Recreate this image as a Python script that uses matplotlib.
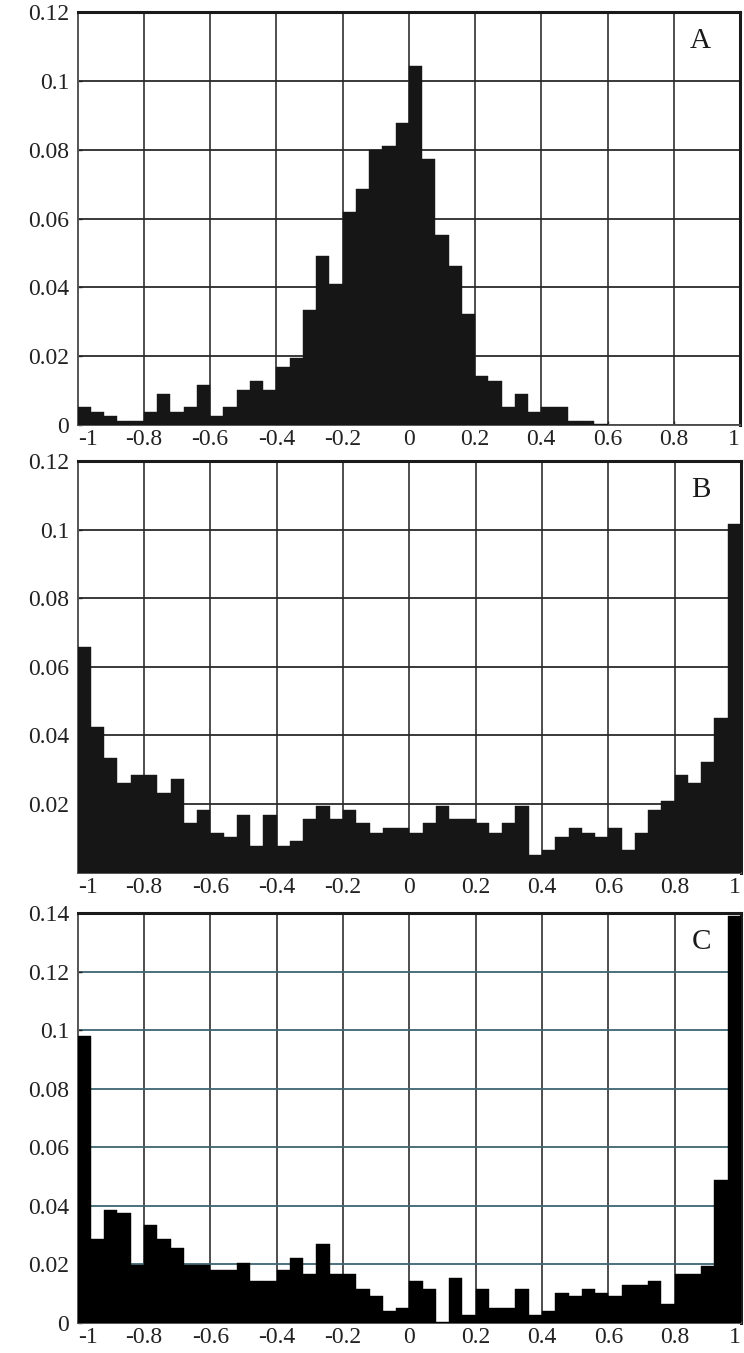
import numpy as np
import matplotlib
matplotlib.use("Agg")
import matplotlib.pyplot as plt

# bin edges: 50 bins of width 0.04 from -1 to 1
bin_edges = np.linspace(-1, 1, 51)

freq_a = [0.0052, 0.0039, 0.0025, 0.0013, 0.0013, 0.0039, 0.0090, 0.0039, 0.0051, 0.0117,
          0.0025, 0.0051, 0.0103, 0.0129, 0.0103, 0.0168, 0.0195, 0.0335, 0.0491, 0.0411,
          0.0620, 0.0685, 0.0800, 0.0812, 0.0877, 0.1043, 0.0774, 0.0552, 0.0463, 0.0324,
          0.0142, 0.0129, 0.0051, 0.0090, 0.0039, 0.0051, 0.0051, 0.0013, 0.0013, 0.0003,
          0, 0, 0, 0, 0, 0, 0, 0, 0, 0]

freq_b = [0.0658, 0.0425, 0.0335, 0.0260, 0.0284, 0.0284, 0.0233, 0.0272, 0.0144, 0.0183,
          0.0117, 0.0105, 0.0169, 0.0079, 0.0169, 0.0079, 0.0093, 0.0156, 0.0194, 0.0156,
          0.0183, 0.0144, 0.0117, 0.0131, 0.0131, 0.0117, 0.0144, 0.0194, 0.0156, 0.0156,
          0.0144, 0.0117, 0.0144, 0.0194, 0.0053, 0.0066, 0.0105, 0.0131, 0.0117, 0.0105,
          0.0131, 0.0066, 0.0117, 0.0183, 0.0209, 0.0284, 0.0260, 0.0323, 0.0452, 0.1017]

freq_c = [0.0981, 0.0286, 0.0385, 0.0374, 0.0198, 0.0334, 0.0286, 0.0257, 0.0198, 0.0198,
          0.0181, 0.0181, 0.0204, 0.0142, 0.0142, 0.0181, 0.0221, 0.0167, 0.0269, 0.0167,
          0.0167, 0.0116, 0.0091, 0.0040, 0.0051, 0.0142, 0.0116, 0.0002, 0.0155, 0.0026,
          0.0116, 0.0051, 0.0051, 0.0116, 0.0026, 0.0040, 0.0102, 0.0091, 0.0116, 0.0102,
          0.0091, 0.0130, 0.0130, 0.0142, 0.0065, 0.0167, 0.0167, 0.0193, 0.0487, 0.1389]

x_ticks = [-1, -0.8, -0.6, -0.4, -0.2, 0, 0.2, 0.4, 0.6, 0.8, 1]
x_labels = ["-1", "-0.8", "-0.6", "-0.4", "-0.2", "0", "0.2", "0.4", "0.6", "0.8", "1"]

y_ticks_a = [0, 0.02, 0.04, 0.06, 0.08, 0.1, 0.12]
y_labels_a = ["0", "0.02", "0.04", "0.06", "0.08", "0.1", "0.12"]
y_ticks_b = [0.02, 0.04, 0.06, 0.08, 0.1, 0.12]
y_labels_b = ["0.02", "0.04", "0.06", "0.08", "0.1", "0.12"]
y_ticks_c = [0, 0.02, 0.04, 0.06, 0.08, 0.1, 0.12, 0.14]
y_labels_c = ["0", "0.02", "0.04", "0.06", "0.08", "0.1", "0.12", "0.14"]

plt.rcParams['font.family'] = ['Liberation Serif', 'DejaVu Serif']

fig = plt.figure(figsize=(7.44, 13.53), dpi=100)

# [left, bottom, width, height] in figure fractions
boxes = [[0.1044, 0.6859, 0.8902, 0.3049],
         [0.1044, 0.3550, 0.8916, 0.3043],
         [0.1044, 0.0222, 0.8916, 0.3030]]
panels = [("A", freq_a, y_ticks_a, y_labels_a, 0.12, "#161616", "#2a2a2a"),
          ("B", freq_b, y_ticks_b, y_labels_b, 0.12, "#161616", "#2a2a2a"),
          ("C", freq_c, y_ticks_c, y_labels_c, 0.14, "#000000", "#3d6670")]

for box, (letter, freq, yt, yl, ytop, barcol, hgrid) in zip(boxes, panels):
    ax = fig.add_axes(box)
    ax.bar(bin_edges[:-1], freq, width=np.diff(bin_edges), align='edge',
           color=barcol, edgecolor=barcol, linewidth=0.3, zorder=3)
    ax.set_xlim(-1, 1)
    ax.set_ylim(0, ytop)
    ax.set_xticks(x_ticks)
    ax.set_xticklabels(x_labels)
    ax.get_xticklabels()[-1].set_horizontalalignment('right')
    ax.get_xticklabels()[0].set_horizontalalignment('left')
    ax.set_yticks(yt)
    ax.set_yticklabels(yl)
    for xv in x_ticks[1:-1]:
        ax.axvline(xv, color="#1e1e1e", linewidth=1.1, zorder=1)
    for yv in np.arange(0.02, ytop - 1e-9, 0.02):
        ax.axhline(yv, color=hgrid, linewidth=1.3, zorder=1)
    ax.tick_params(axis='both', direction='in', length=3, width=1,
                   labelsize=17, colors='#222222')
    ax.tick_params(axis='x', pad=3)
    ax.tick_params(axis='y', pad=6)
    for side in ['top', 'right']:
        ax.spines[side].set_linewidth(2.2)
        ax.spines[side].set_color('#1a1a1a')
    for side in ['left', 'bottom']:
        ax.spines[side].set_linewidth(1.4)
        ax.spines[side].set_color('#555555')
    ax.text(0.94, 0.93, letter, transform=ax.transAxes, fontsize=21,
            ha='center', va='center', color='#1a1a1a', zorder=5)

fig.savefig("out.png", dpi=100)
